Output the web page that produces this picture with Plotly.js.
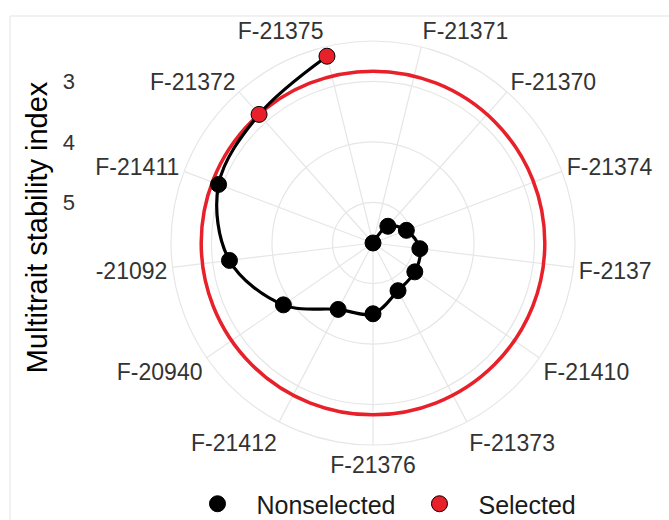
<!DOCTYPE html>
<html><head><meta charset="utf-8">
<script src="https://cdn.plot.ly/plotly-3.0.1.min.js"></script>
<style>html,body{margin:0;padding:0;background:#fff}#chart{width:669px;height:520px}</style>
</head><body><div id="chart"></div>
<script>
// ---- data (genotypes ordered by MTSI, ascending) ----
const genotypes = ["F-21375","F-21372","F-21411","-21092","F-20940","F-21412","F-21376","F-21373","F-21410","F-2137","F-21374","F-21370","F-21371"];
const mtsi = [2.49, 2.83, 2.94, 3.28, 3.87, 4.43, 4.50, 4.78, 4.83, 4.89, 5.08, 5.30, 5.67];
const status = ["Selected","Selected","Nonselected","Nonselected","Nonselected","Nonselected","Nonselected","Nonselected","Nonselected","Nonselected","Nonselected","Nonselected","Nonselected"];
const radialTicks = [3, 4, 5];
const groups = ["Nonselected", "Selected"];
const groupColors = {"Nonselected": "#000000", "Selected": "#e8202a"};
const axisTitle = "Multitrait stability index";

// ---- derived ----
const selVals = mtsi.filter((v, i) => status[i] === "Selected");
const cutpoint = Math.max(...selVals);
const rMax = Math.max(...mtsi), rMin = Math.min(...mtsi);
const rEdge = rMin - 0.05 * (rMax - rMin);
const n = genotypes.length;

// ---- geometry (layout) ----
const W = 669, H = 520, cx = 373, cy = 243, R = 202;
const FONT = "Liberation Sans, Arial, Helvetica, sans-serif";
const dom = {x: [(cx - R) / W, (cx + R) / W], y: [(H - cy - R) / H, (H - cy + R) / H]};
const rotation = 90 + 180 / n;
const angBase = {type: "category", categoryorder: "array", categoryarray: genotypes,
  rotation: rotation, direction: "counterclockwise"};
const grid = "#e6e6e6";

const traces = [];
// base layer (grey grid + labels)
traces.push({type: "scatterpolar", subplot: "polar", r: mtsi, theta: genotypes, mode: "markers",
  marker: {opacity: 0}, hoverinfo: "skip", showlegend: false});
// cut-off circle layer
traces.push({type: "scatterpolar", subplot: "polar2", r: mtsi, theta: genotypes, mode: "markers",
  marker: {opacity: 0}, hoverinfo: "skip", showlegend: false});
// data layer
traces.push({type: "scatterpolar", subplot: "polar3", r: mtsi, theta: genotypes, mode: "lines",
  line: {color: "#000", width: 3.2, shape: "spline", smoothing: 1}, hoverinfo: "skip", showlegend: false});
groups.forEach(g => {
  const idx = status.map((s, i) => s === g ? i : -1).filter(i => i >= 0);
  traces.push({type: "scatterpolar", subplot: "polar3", name: g,
    r: idx.map(i => mtsi[i]), theta: idx.map(i => genotypes[i]), mode: "markers",
    marker: {size: 16, color: groupColors[g], line: {color: "#000", width: 1}}});
});
// left radial scale (cartesian axis aligned with the polar radius)
traces.push({type: "scatter", x: [], y: [], xaxis: "x", yaxis: "y", showlegend: false, hoverinfo: "skip"});

const yBotPx = 414, axX = 76;
const layout = {
  width: W, height: H, margin: {l: 0, r: 0, t: 0, b: 0, autoexpand: false},
  paper_bgcolor: "#fff", plot_bgcolor: "rgba(0,0,0,0)",
  font: {family: FONT},
  polar: {domain: dom, bgcolor: "#fff",
    radialaxis: {range: [rMax, rEdge], tickvals: radialTicks, showticklabels: false, ticks: "",
      showline: false, gridcolor: grid, gridwidth: 1.2},
    angularaxis: Object.assign({}, angBase, {ticks: "", showline: true, linecolor: grid, linewidth: 1.2,
      gridcolor: grid, gridwidth: 1.2, tickfont: {size: 23, color: "#333333", family: FONT}})},
  polar2: {domain: dom, bgcolor: "rgba(0,0,0,0)",
    radialaxis: {range: [rMax, rEdge], tickvals: [cutpoint], showticklabels: false, ticks: "",
      showline: false, gridcolor: groupColors["Selected"], gridwidth: 3.5},
    angularaxis: Object.assign({}, angBase, {ticks: "", showline: false, showgrid: false, showticklabels: false})},
  polar3: {domain: dom, bgcolor: "rgba(0,0,0,0)",
    radialaxis: {range: [rMax, rEdge], visible: false},
    angularaxis: Object.assign({}, angBase, {visible: false})},
  xaxis: {domain: [axX / W, (axX + 4) / W], range: [0, 1], visible: false, fixedrange: true},
  yaxis: {anchor: "x", domain: [(H - yBotPx) / H, (H - cy + R) / H],
    range: [rMax + (yBotPx - cy) * (rMax - rEdge) / R, rEdge],
    tickvals: radialTicks, ticks: "", showgrid: false, zeroline: false, showline: false, fixedrange: true,
    tickfont: {size: 22, color: "#333333", family: FONT},
    title: {text: axisTitle, font: {size: 29, color: "#000", family: FONT}, standoff: 6}},
  showlegend: true,
  legend: {orientation: "h", x: 0.568, xanchor: "center", y: -7 / H, yanchor: "bottom",
    font: {size: 25, color: "#1a1a1a", family: FONT}, bgcolor: "rgba(0,0,0,0)", itemwidth: 68},
  shapes: [
    {type: "line", xref: "paper", yref: "paper", x0: 10 / W, x1: 1, y0: (H - 16) / H, y1: (H - 16) / H,
      line: {color: "#e3e3e3", width: 1}},
    {type: "line", xref: "paper", yref: "paper", x0: 10 / W, x1: 10 / W, y0: 0, y1: (H - 16) / H,
      line: {color: "#e3e3e3", width: 1}}
  ]
};
Plotly.newPlot("chart", traces, layout, {displayModeBar: false, staticPlot: true});
</script></body></html>
